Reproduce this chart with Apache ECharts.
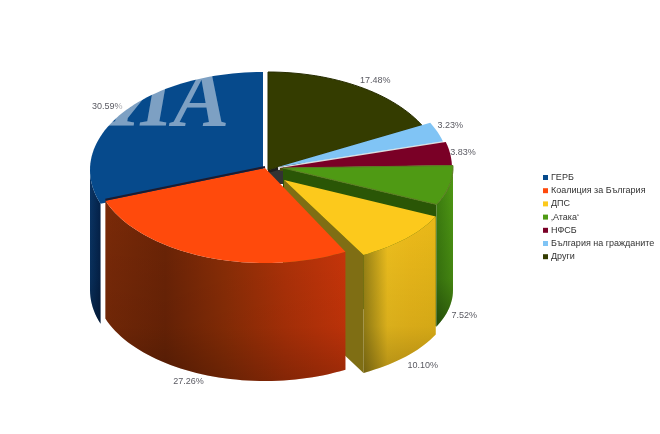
<!DOCTYPE html>
<html><head><meta charset="utf-8">
<style>html,body{margin:0;padding:0;background:#fff}#c{width:660px;height:434px;filter:blur(0.4px)}</style>
<script src="https://cdn.jsdelivr.net/npm/echarts@6/dist/echarts.min.js"></script>
</head><body><div id="c"></div>
<script>
const parties = ['ГЕРБ','Коалиция за България','ДПС','‚Атака‘','НФСБ','България на гражданите','Други'];
const shares = [30.59,27.26,10.10,7.52,3.83,3.23,17.48];
const labels = ['30.59%','27.26%','10.10%','7.52%','3.83%','3.23%','17.48%'];

const looks = [
 {color:'#064a8c',cx:263,cy:170,rx:173,ry:98,depth:120,z:1,ldx:-14,ldy:-7,
  wall:['#0a3566','#04224a'],shade:0.3},
 {color:'#ff4a0c',cx:265,cy:168,rx:170,ry:95,depth:118,z:7,ldx:-16,ldy:125,
  wall:['#7a2a08','#6c2406','#8c2e06','#b03208','#cc360a'],shade:0.25,backEdge:'#1c1c30'},
 {color:'#fcc91c',cx:284,cy:180,rx:168,ry:85,depth:118,z:6,ldx:17,ldy:127,
  wall:['#9a8416','#eebf1e','#ecba1a','#e8b818'],shade:0.25,radial:'end',radialDepth:118,radialColor:'#7f6e14'},
 {color:'#4f9a14',cx:283,cy:168,rx:170,ry:85,depth:122,z:5,ldx:15,ldy:130,
  wall:['#3d7f10','#4f9a14'],shade:0.4,radial:'end',radialDepth:122,radialColor:'#2a5606',stroke:'#5a7a20'},
 {color:'#7a0026',cx:280,cy:168,rx:172,ry:98,depth:0,z:4,ldx:13,ldy:-1,radial:'end',radialDepth:3,radialColor:'#4a4a10'},
 {color:'#80c4f5',cx:278,cy:167,rx:171,ry:97,depth:0,z:3,ldx:13,ldy:-6,radial:'end',radialDepth:3,radialColor:'#ddd'},
 {color:'#343c00',cx:268,cy:170,rx:173,ry:98,depth:0,z:2,ldx:17,ldy:-6,radial:'end',radialDepth:3,radialColor:'#1e1e1e',stroke:'#262c00',hub:[17,14],hubColor:'#333'}
];

const total = shares.reduce((a,b)=>a+b,0);
const spans = []; let run = 360;
shares.forEach(v=>{const sweep=v/total*360; spans.push([run-sweep,run]); run-=sweep;});
const rad = d=>d*Math.PI/180;
const at = (k,t)=>[k.cx+k.rx*Math.sin(rad(t)), k.cy-k.ry*Math.cos(rad(t))];
function arc(k,a,b){const p=[];for(let t=a;t<b;t+=2)p.push(at(k,t));p.push(at(k,b));return p;}
function hGrad(cols){return {type:'linear',x:0,y:0,x2:1,y2:0,colorStops:cols.map((c,i)=>({offset:cols.length>1?i/(cols.length-1):0,color:c}))};}
const vShade=s=>({type:'linear',x:0,y:0,x2:0,y2:1,colorStops:[{offset:0,color:'rgba(0,0,0,0)'},{offset:.7,color:'rgba(0,0,0,'+s*.35+')'},{offset:1,color:'rgba(0,0,0,'+s+')'}]});

function drawSlice(i){
 return function(params,api){
  const k=looks[i],[a,b]=spans[i],ch=[];
  const apex=[k.cx,k.cy];
  if(k.hub){
   ch.push({type:'polygon',shape:{points:[apex,[apex[0]+k.hub[0],apex[1]],[apex[0]+k.hub[0],apex[1]+k.hub[1]],[apex[0],apex[1]+k.hub[1]]]},style:{fill:k.hubColor}});
  }
  if(k.radial){
   const t=k.radial==='start'?a:b,e=at(k,t),d=k.radialDepth;
   ch.push({type:'polygon',shape:{points:[apex,e,[e[0],e[1]+d],[apex[0],apex[1]+d]]},style:{fill:k.radialColor}});
  }
  const w0=Math.max(a,90),w1=Math.min(b,270);
  if(k.depth&&w1>w0){
   const top=arc(k,w0,w1),bot=top.map(p=>[p[0],p[1]+k.depth]).reverse(),pts=top.concat(bot);
   ch.push({type:'polygon',shape:{points:pts},style:{fill:hGrad(k.wall)}});
   ch.push({type:'polygon',shape:{points:pts},style:{fill:vShade(k.shade)}});
  }
  ch.push({type:'polygon',shape:{points:[apex].concat(arc(k,a,b))},
   style:{fill:k.color,stroke:k.stroke||null,lineWidth:k.stroke?1:0}});
  if(k.backEdge){
   const e=at(k,b);
   ch.push({type:'polyline',shape:{points:[[apex[0],apex[1]-1],[e[0],e[1]-1]]},style:{stroke:k.backEdge,lineWidth:2,fill:null}});
  }
  const m=at(k,(a+b)/2);
  ch.push({type:'text',z2:50,style:{text:labels[i],x:m[0]+k.ldx,y:m[1]+k.ldy,align:'center',verticalAlign:'middle',
   font:'9px "Liberation Sans"',fill:'#5a5a62'}});
  return {type:'group',children:ch};
 };
}

const chart=echarts.init(document.getElementById('c'),null,{renderer:'canvas'});
chart.setOption({
 animation:false,backgroundColor:'#fff',
 legend:{orient:'vertical',left:538,top:167,data:parties,icon:'rect',itemWidth:5,itemHeight:5,itemGap:2.2,
  selectedMode:false,textStyle:{fontFamily:'Liberation Sans',fontSize:9,color:'#333',lineHeight:11,padding:[0,0,0,-2]}},
 graphic:[{type:'text',z:100,left:108,top:62,style:{text:'ИА',font:'italic bold 84px "Liberation Serif"',fill:'rgba(255,255,255,0.48)'}}],
 series:parties.map((n,i)=>({type:'custom',name:n,coordinateSystem:'none',z:looks[i].z,silent:true,
  itemStyle:{color:looks[i].color},data:[[shares[i]]],renderItem:drawSlice(i)}))
});
</script></body></html>
